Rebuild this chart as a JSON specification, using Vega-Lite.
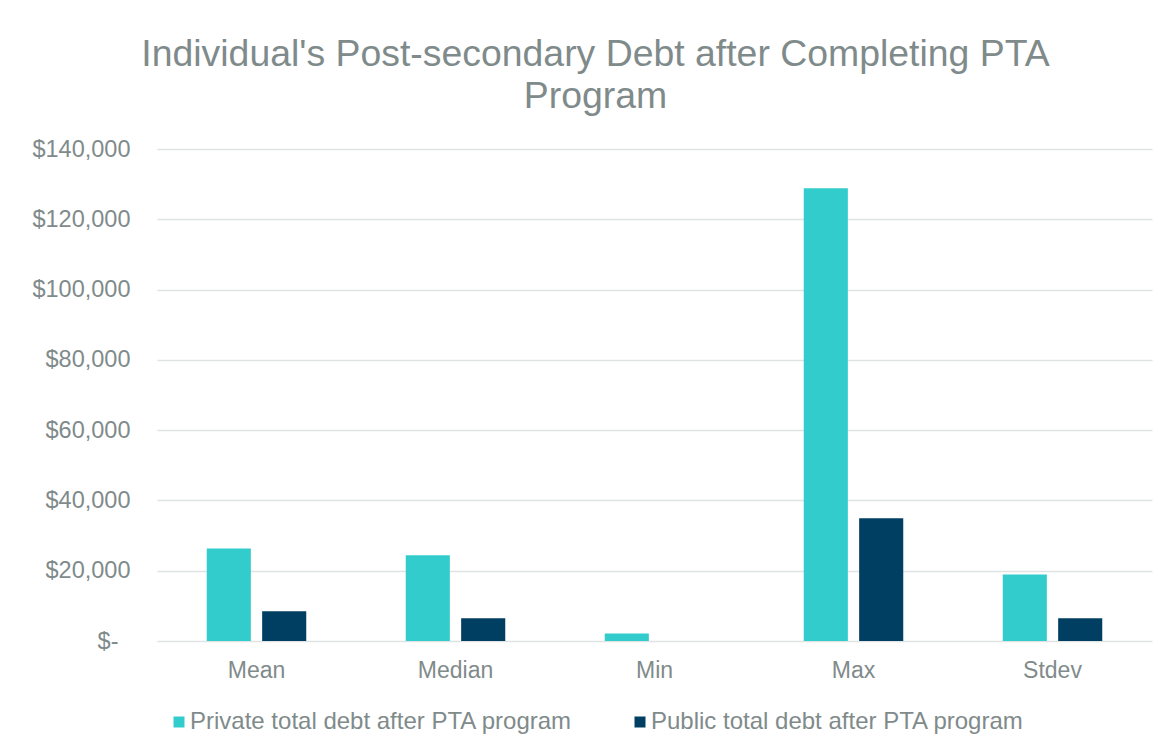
{
  "$schema": "https://vega.github.io/schema/vega-lite/v6.json",
  "autosize": {"type": "none"},
  "width": 995,
  "height": 492,
  "padding": {"left": 157, "top": 149, "right": 18, "bottom": 114},
  "background": "white",
  "title": {
    "text": ["Individual's Post-secondary Debt after Completing PTA", "Program"],
    "anchor": "middle",
    "frame": "group",
    "dx": -59,
    "font": "Liberation Sans",
    "fontSize": 37.4,
    "fontWeight": "normal",
    "color": "#7F8B8B",
    "lineHeight": 42,
    "offset": 22
  },
  "data": {
    "values": [
      {"stat": "Mean", "series": "Private total debt after PTA program", "debt": 26300},
      {"stat": "Mean", "series": "Public total debt after PTA program", "debt": 8450},
      {"stat": "Median", "series": "Private total debt after PTA program", "debt": 24400},
      {"stat": "Median", "series": "Public total debt after PTA program", "debt": 6450},
      {"stat": "Min", "series": "Private total debt after PTA program", "debt": 2100},
      {"stat": "Min", "series": "Public total debt after PTA program", "debt": 0},
      {"stat": "Max", "series": "Private total debt after PTA program", "debt": 128800},
      {"stat": "Max", "series": "Public total debt after PTA program", "debt": 34900},
      {"stat": "Stdev", "series": "Private total debt after PTA program", "debt": 18900},
      {"stat": "Stdev", "series": "Public total debt after PTA program", "debt": 6450}
    ]
  },
  "mark": {"type": "bar"},
  "encoding": {
    "x": {
      "field": "stat",
      "type": "nominal",
      "sort": ["Mean", "Median", "Min", "Max", "Stdev"],
      "scale": {"paddingInner": 0.5, "paddingOuter": 0.25},
      "axis": {
        "title": null,
        "labelAngle": 0,
        "domain": false,
        "ticks": false,
        "labelFont": "Liberation Sans",
        "labelFontSize": 23,
        "labelColor": "#7F8B8B",
        "labelPadding": 18
      }
    },
    "xOffset": {
      "field": "series",
      "type": "nominal",
      "scale": {"paddingInner": 0.204, "paddingOuter": 0}
    },
    "y": {
      "field": "debt",
      "type": "quantitative",
      "scale": {"domain": [0, 140000], "nice": false},
      "axis": {
        "title": null,
        "values": [0, 20000, 40000, 60000, 80000, 100000, 120000, 140000],
        "labelExpr": "datum.value == 0 ? '$-' : '$' + format(datum.value, ',')",
        "domain": false,
        "ticks": false,
        "grid": true,
        "gridColor": "#DFE3E3",
        "gridWidth": 1.4,
        "labelFont": "Liberation Sans",
        "labelFontSize": 23.5,
        "labelColor": "#7F8B8B",
        "labelPadding": {"condition": {"test": "datum.value == 0", "value": 39}, "value": 27}
      }
    },
    "color": {
      "field": "series",
      "type": "nominal",
      "scale": {
        "domain": ["Private total debt after PTA program", "Public total debt after PTA program"],
        "range": ["#33CCCC", "#003F62"]
      },
      "legend": {
        "title": null,
        "orient": "none",
        "direction": "horizontal",
        "legendX": 10,
        "legendY": 561,
        "padding": 0,
        "symbolType": "square",
        "symbolSize": 121,
        "symbolStrokeWidth": 0,
        "labelFont": "Liberation Sans",
        "labelFontSize": 24,
        "labelColor": "#7F8B8B",
        "labelOffset": -1,
        "labelLimit": 1000,
        "columnPadding": 55
      }
    }
  },
  "config": {
    "view": {"stroke": null}
  }
}
